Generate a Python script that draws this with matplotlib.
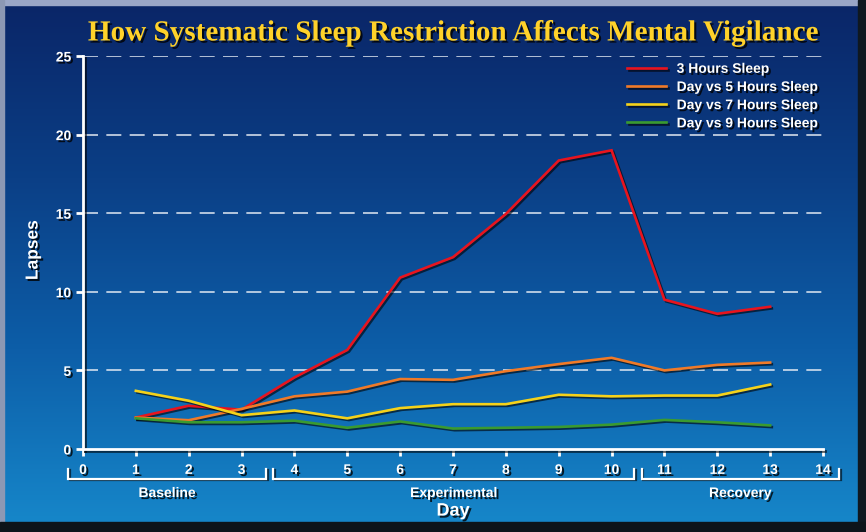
import numpy as np
import matplotlib
matplotlib.use("Agg")
import matplotlib.pyplot as plt
import matplotlib.patheffects as pe
from matplotlib.colors import LinearSegmentedColormap

# Lapses per day for each sleep condition
days = [1, 2, 3, 4, 5, 6, 7, 8, 9, 10, 11, 12, 13]
lapses_3h = [2.0, 2.75, 2.5, 4.55, 6.3, 10.9, 12.2, 14.95, 18.35, 19.0, 9.5, 8.6, 9.05]
lapses_5h = [2.0, 1.83, 2.55, 3.35, 3.65, 4.45, 4.4, 4.95, 5.4, 5.8, 5.0, 5.35, 5.5]
lapses_7h = [3.7, 3.07, 2.15, 2.45, 1.95, 2.6, 2.85, 2.85, 3.45, 3.35, 3.4, 3.4, 4.1]
lapses_9h = [1.95, 1.7, 1.7, 1.8, 1.35, 1.75, 1.3, 1.35, 1.4, 1.55, 1.85, 1.7, 1.5]

series_labels = ["3 Hours Sleep", "Day vs 5 Hours Sleep",
                 "Day vs 7 Hours Sleep", "Day vs 9 Hours Sleep"]
series_colors = ["#E8141E", "#F07A28", "#F5D21A", "#3A9A30"]

x_ticks = list(range(0, 15))
y_ticks = [0, 5, 10, 15, 20, 25]

# Study phases (name, first day edge, last day edge)
phase_names = ["Baseline", "Experimental", "Recovery"]
phase_spans = [(-0.28, 3.46), (3.6, 10.43), (10.57, 14.3)]

W, H = 866, 532
fig = plt.figure(figsize=(W / 100, H / 100), dpi=100)
fig.patch.set_facecolor("#0d151c")

# Background panel with vertical blue gradient and bevelled frame
bg = fig.add_axes([0, 0, 1, 1], zorder=-10)
bg.set_xlim(0, W)
bg.set_ylim(H, 0)
bg.axis("off")
cmap = LinearSegmentedColormap.from_list(
    "panel", ["#0a2668", "#0b3f86", "#0d5ea8", "#1686c9"])
grad = np.linspace(0, 1, 256).reshape(-1, 1)
bg.imshow(grad, cmap=cmap, aspect="auto", extent=(4, 858, 522, 5))
bg.add_patch(plt.Rectangle((0, 0), W, 5, color="#9aa6c6"))
bg.add_patch(plt.Rectangle((0, 0), 4, 522, color="#8c98b4"))
bg.add_patch(plt.Rectangle((858, 0), 8, H, color="#0f1820"))
bg.add_patch(plt.Rectangle((0, 522), W, 10, color="#0d141a"))

shadow_txt = [pe.withSimplePatchShadow(offset=(1.5, -1.5), shadow_rgbFace="black", alpha=0.8)]
shadow_line = [pe.SimpleLineShadow(offset=(1.2, -1.2), shadow_color="black", alpha=0.6), pe.Normal()]

fig.text(452 / W, 1 - 33 / H, "How Systematic Sleep Restriction Affects Mental Vigilance",
         ha="center", va="center", color="#FFD22A", fontsize=21,
         fontfamily="Liberation Serif", fontweight="bold", path_effects=shadow_txt)

ax = fig.add_axes([83 / W, 1 - 449 / H, 740 / W, 393 / H])
ax.set_facecolor("none")
ax.set_xlim(0, 14)
ax.set_ylim(0, 25)

for vals, lab, col in zip([lapses_3h, lapses_5h, lapses_7h, lapses_9h], series_labels, series_colors):
    ax.plot(days, vals, color=col, lw=1.9, label=lab, path_effects=shadow_line,
            solid_joinstyle="miter", zorder=3)

for yv in y_ticks[1:]:
    ax.axhline(yv, color="#e6ecf4", lw=1.2, dashes=(9, 5), alpha=0.9, zorder=1)

for side in ["top", "right"]:
    ax.spines[side].set_visible(False)
for side in ["left", "bottom"]:
    ax.spines[side].set_color("white")
    ax.spines[side].set_linewidth(2)
    ax.spines[side].set_path_effects(shadow_line)

ax.set_xticks(x_ticks)
ax.set_yticks(y_ticks)
ax.tick_params(axis="both", colors="white", width=2, length=5, direction="out",
               labelsize=10)
ax.tick_params(axis="x", pad=5)
for lbl in ax.get_xticklabels() + ax.get_yticklabels():
    lbl.set_fontweight("bold")
    lbl.set_fontfamily("Liberation Sans")
    lbl.set_color("white")
    lbl.set_path_effects(shadow_txt)

# Phase brackets under the day axis
for name, (x0, x1) in zip(phase_names, phase_spans):
    ax.plot([x0, x0, x1, x1], [-1.25, -1.88, -1.88, -1.25], color="white", lw=1.6,
            clip_on=False, path_effects=shadow_line, solid_joinstyle="miter")
    ax.text((x0 + x1) / 2, -2.8, name, ha="center", va="center", color="white",
            fontsize=10, fontweight="bold", fontfamily="Liberation Sans",
            path_effects=shadow_txt, clip_on=False)

ax.text(7.0, -3.95, "Day", ha="center", va="center", color="white", fontsize=13,
        fontweight="bold", fontfamily="Liberation Sans", path_effects=shadow_txt,
        clip_on=False)
fig.text(33 / W, 1 - 250 / H, "Lapses", ha="center", va="center", rotation=90,
         color="white", fontsize=12.5, fontweight="bold", fontfamily="Liberation Sans",
         path_effects=shadow_txt)

leg = ax.legend(loc="upper right", bbox_to_anchor=(1.01, 1.017), frameon=False,
                handlelength=2.8, handletextpad=0.75, labelspacing=0.3,
                prop={"family": "Liberation Sans", "weight": "bold", "size": 10})
for t in leg.get_texts():
    t.set_color("white")
    t.set_path_effects(shadow_txt)

fig.savefig("out.png", dpi=100, facecolor=fig.get_facecolor())
